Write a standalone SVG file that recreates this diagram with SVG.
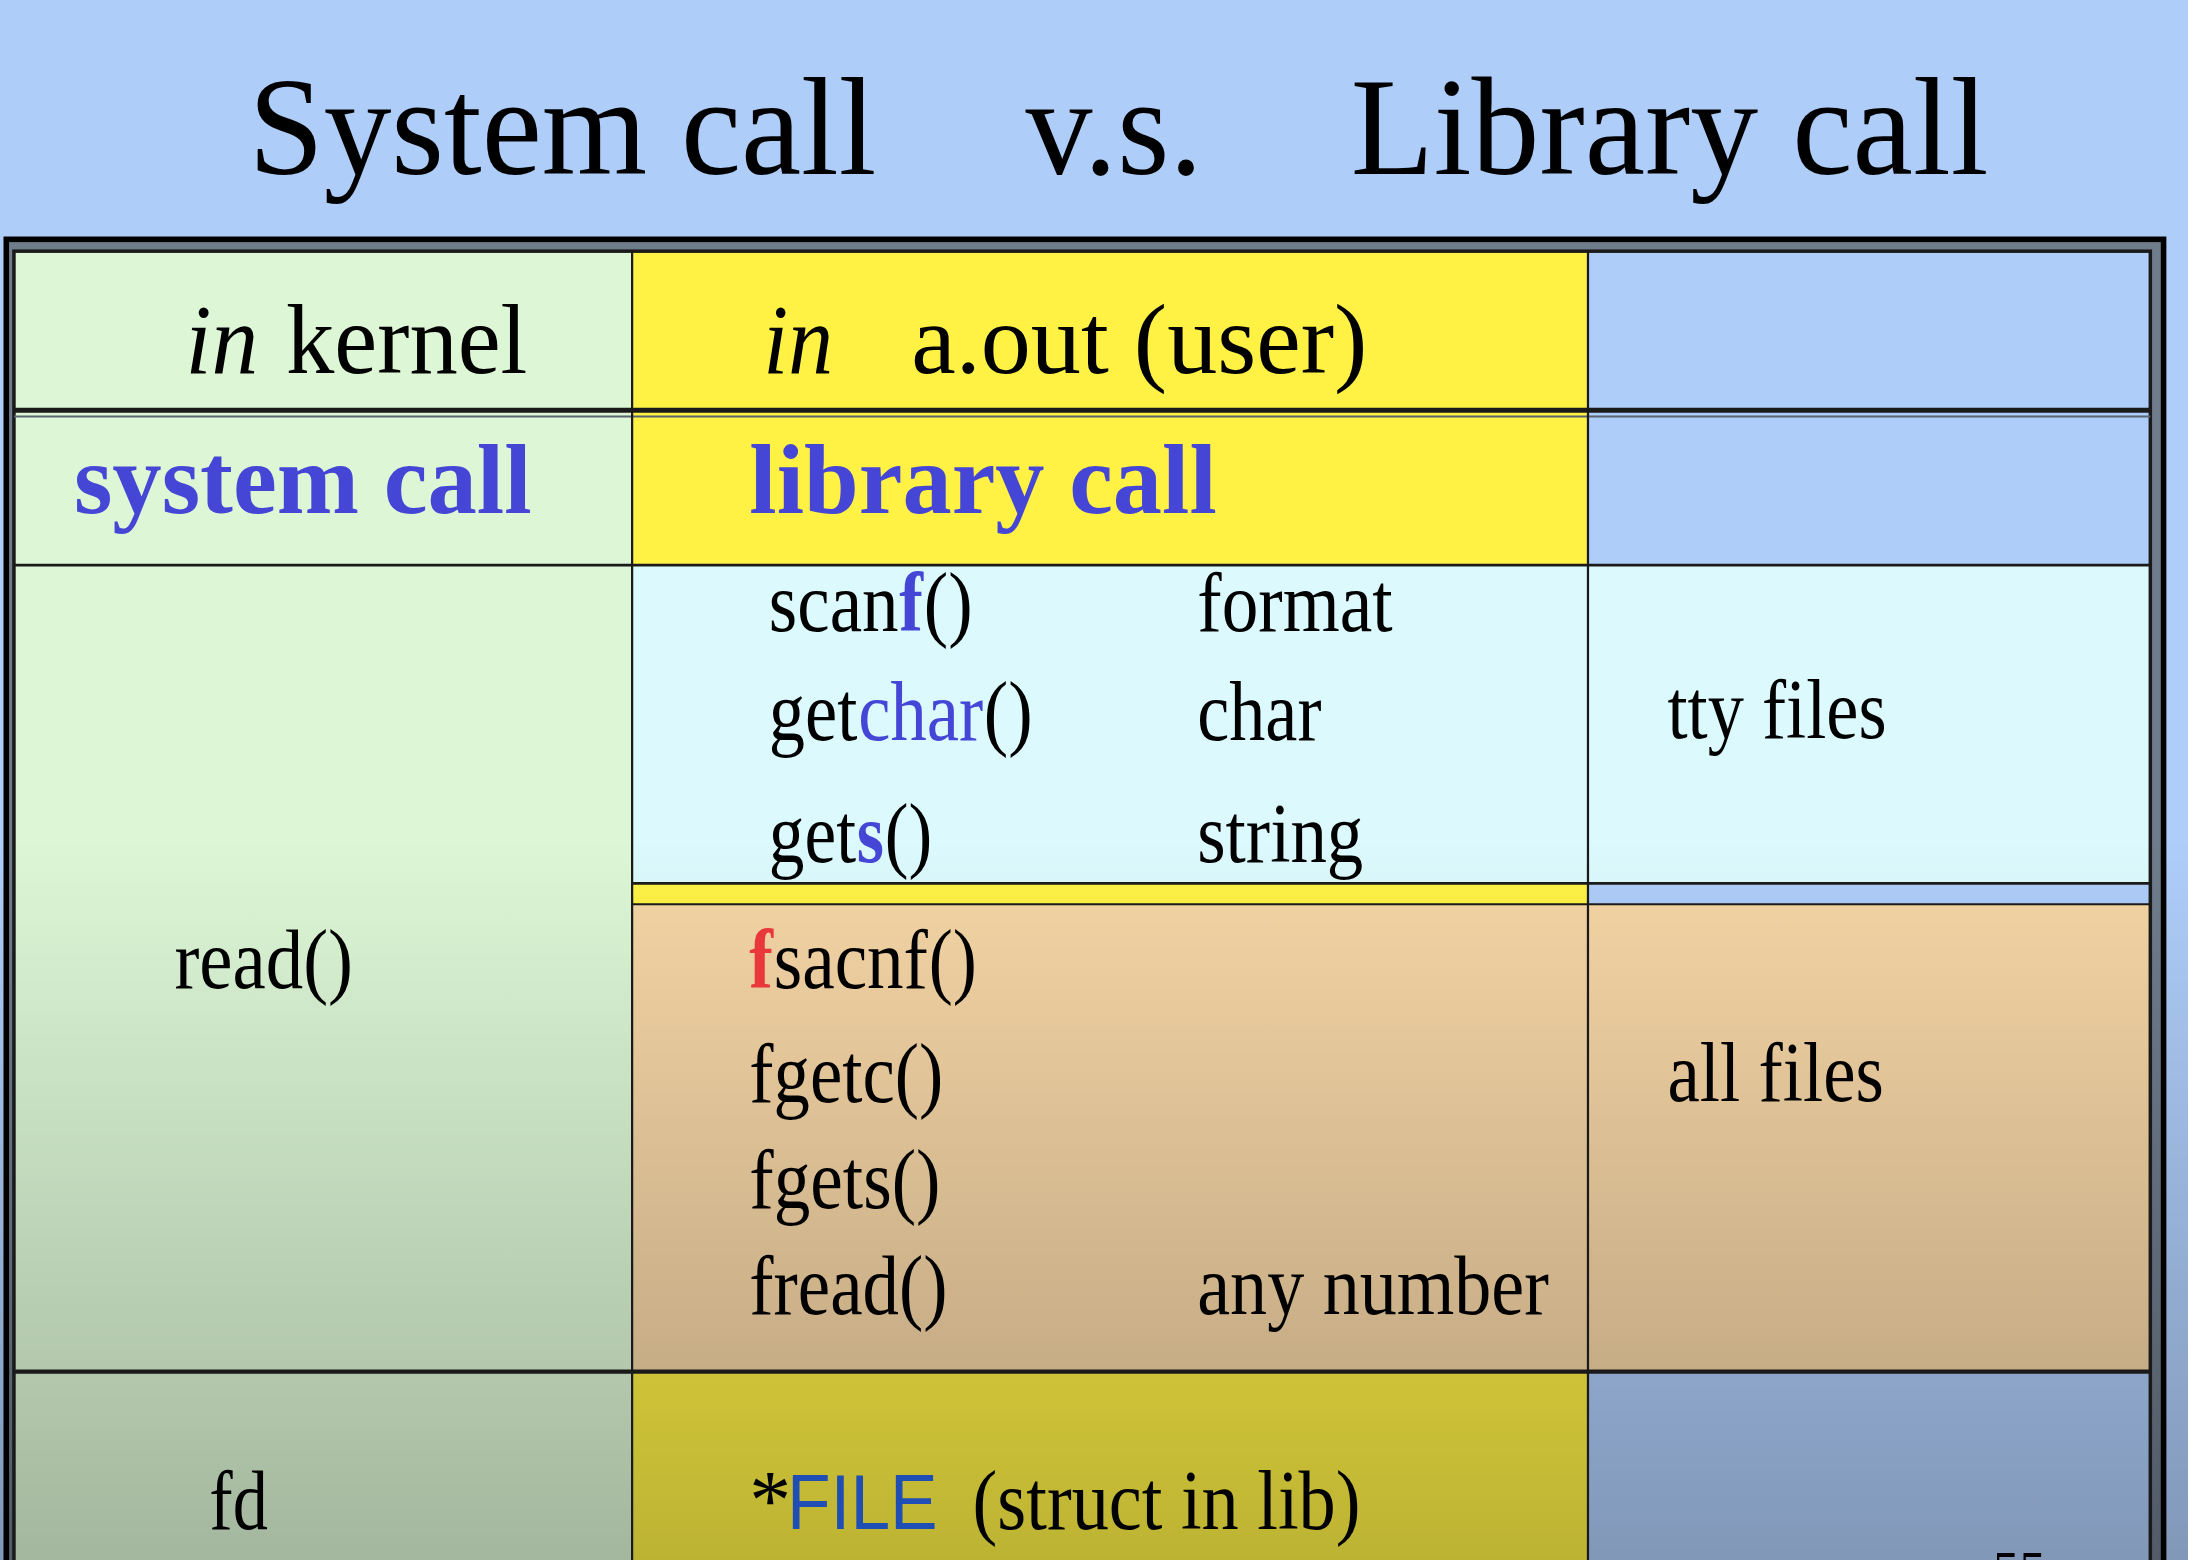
<svg xmlns="http://www.w3.org/2000/svg" width="2188" height="1560" viewBox="0 0 2188 1560">
  <defs>
    <linearGradient id="shade" x1="0" y1="0" x2="0" y2="1">
      <stop offset="0" stop-color="#000" stop-opacity="0"/>
      <stop offset="1" stop-color="#000" stop-opacity="0.26"/>
    </linearGradient>
    <style>
      text { font-family: "Liberation Serif", "Times New Roman", serif; fill: #000; }
      .title { font-size: 100px; }
      .hdr { font-size: 72px; }
      .hdrb { font-size: 72px; font-weight: bold; fill: #4646D6; }
      .body { font-size: 60px; }
      .it { font-style: italic; }
      .bl { fill: #4646D6; }
      .blb { fill: #4646D6; font-weight: bold; }
      .rdb { fill: #E8383C; font-weight: bold; }
      .sans { font-family: "Liberation Sans", Arial, sans-serif; font-size: 56px; fill: #1F4FB5; }
      .yellow { fill: #FFF245; }
      .cyan { fill: #DCFAFD; }
      .tan { fill: #F6D6A6; }
      .green { fill: #DDF7D6; }
      .blue { fill: #AECDF9; }
      .ln { stroke: #1a1a1a; fill: none; }
    </style>
  </defs>
  <g transform="scale(1.395408)">
    <rect id="background" x="0" y="0" width="1568" height="1118" fill="#AECDF9"/>

    <g id="title">
      <text class="title" x="178" y="125" textLength="450" lengthAdjust="spacingAndGlyphs">System call</text>
      <text class="title" x="735" y="125" textLength="127" lengthAdjust="spacingAndGlyphs">v.s.</text>
      <text class="title" x="968" y="125" textLength="457" lengthAdjust="spacingAndGlyphs">Library call</text>
    </g>

    <g id="frame">
      <rect x="4.5" y="171.5" width="1546" height="980" fill="#6F7C8C" stroke="#000" stroke-width="4"/>
    </g>

    <g id="cells">
      <rect id="col-kernel" class="green" x="10" y="180" width="443" height="960"/>
      <rect id="cell-user-header" class="yellow" x="453" y="180" width="685" height="225"/>
      <rect id="cell-right-header" class="blue" x="1138" y="180" width="403" height="225"/>
      <rect id="cell-tty-lib" class="cyan" x="453" y="405" width="685" height="228"/>
      <rect id="cell-tty" class="cyan" x="1138" y="405" width="403" height="228"/>
      <rect id="strip-lib" class="yellow" x="453" y="633" width="685" height="15"/>
      <rect id="strip-right" class="blue" x="1138" y="633" width="403" height="15"/>
      <rect id="cell-all-lib" class="tan" x="453" y="648" width="685" height="335"/>
      <rect id="cell-all" class="tan" x="1138" y="648" width="403" height="335"/>
      <rect id="cell-file" class="yellow" x="453" y="983" width="685" height="160"/>
      <rect id="cell-bottom-right" class="blue" x="1138" y="983" width="403" height="160"/>
    </g>

    <rect id="shading" x="0" y="600" width="1568" height="518" fill="url(#shade)"/>

    <g id="grid-lines">
      <rect class="ln" x="10" y="180" width="1531" height="960" stroke-width="2.5"/>
      <line class="ln" x1="10" y1="294" x2="1541" y2="294" stroke-width="3.5"/>
      <line x1="10" y1="298.5" x2="1541" y2="298.5" stroke="#5a6470" stroke-width="1.5"/>
      <line class="ln" x1="10" y1="405" x2="1541" y2="405" stroke-width="2" stroke="#2e3a2e"/>
      <line class="ln" x1="453" y1="633" x2="1541" y2="633" stroke-width="2" stroke="#4a5560"/>
      <line class="ln" x1="453" y1="648" x2="1541" y2="648" stroke-width="1.5" stroke="#333"/>
      <line class="ln" x1="10" y1="983" x2="1541" y2="983" stroke-width="3" stroke="#2f3a30"/>
      <line class="ln" x1="453" y1="180" x2="453" y2="1140" stroke-width="1.6"/>
      <line class="ln" x1="1138" y1="180" x2="1138" y2="1140" stroke-width="1.6"/>
    </g>

    <g id="header-kernel">
      <text class="hdr it" x="133" y="267" textLength="52" lengthAdjust="spacingAndGlyphs">in</text>
      <text class="hdr" x="205" y="267" textLength="173" lengthAdjust="spacingAndGlyphs">kernel</text>
    </g>
    <g id="header-user">
      <text class="hdr it" x="547" y="267" textLength="50" lengthAdjust="spacingAndGlyphs">in</text>
      <text class="hdr" x="653" y="267" textLength="327" lengthAdjust="spacingAndGlyphs">a.out (user)</text>
    </g>
    <g id="label-system-call">
      <text class="hdrb" x="53" y="368" textLength="328" lengthAdjust="spacingAndGlyphs">system call</text>
    </g>
    <g id="label-library-call">
      <text class="hdrb" x="537" y="368" textLength="335" lengthAdjust="spacingAndGlyphs">library call</text>
    </g>

    <g id="tty-functions">
      <text class="body" x="551" y="452" textLength="93" lengthAdjust="spacingAndGlyphs">scan</text>
      <text class="body blb" x="644.5" y="452" textLength="17" lengthAdjust="spacingAndGlyphs">f</text>
      <text class="body" x="662" y="452" textLength="35" lengthAdjust="spacingAndGlyphs">()</text>
      <text class="body" x="858" y="452" textLength="140" lengthAdjust="spacingAndGlyphs">format</text>

      <text class="body" x="551" y="530" textLength="63.5" lengthAdjust="spacingAndGlyphs">get</text>
      <text class="body bl" x="615" y="530" textLength="89.5" lengthAdjust="spacingAndGlyphs">char</text>
      <text class="body" x="705" y="530" textLength="35" lengthAdjust="spacingAndGlyphs">()</text>
      <text class="body" x="858" y="530" textLength="89" lengthAdjust="spacingAndGlyphs">char</text>

      <text class="body" x="551" y="618" textLength="62.5" lengthAdjust="spacingAndGlyphs">get</text>
      <text class="body blb" x="614" y="618" textLength="19.5" lengthAdjust="spacingAndGlyphs">s</text>
      <text class="body" x="634" y="618" textLength="34" lengthAdjust="spacingAndGlyphs">()</text>
      <text class="body" x="858" y="618" textLength="119" lengthAdjust="spacingAndGlyphs">string</text>
    </g>
    <g id="tty-files">
      <text class="body" x="1195" y="529" textLength="157" lengthAdjust="spacingAndGlyphs">tty files</text>
    </g>

    <g id="read">
      <text class="body" x="125" y="708" textLength="128" lengthAdjust="spacingAndGlyphs">read()</text>
    </g>

    <g id="file-functions">
      <text class="body rdb" x="537" y="708" textLength="17" lengthAdjust="spacingAndGlyphs">f</text>
      <text class="body" x="554.5" y="708" textLength="110.5" lengthAdjust="spacingAndGlyphs">sacnf</text>
      <text class="body" x="665.5" y="708" textLength="34.5" lengthAdjust="spacingAndGlyphs">()</text>
      <text class="body" x="537" y="790" textLength="139" lengthAdjust="spacingAndGlyphs">fgetc()</text>
      <text class="body" x="537" y="866" textLength="137" lengthAdjust="spacingAndGlyphs">fgets()</text>
      <text class="body" x="537" y="942" textLength="142" lengthAdjust="spacingAndGlyphs">fread()</text>
      <text class="body" x="858" y="942" textLength="252" lengthAdjust="spacingAndGlyphs">any number</text>
    </g>
    <g id="all-files">
      <text class="body" x="1195" y="789" textLength="155" lengthAdjust="spacingAndGlyphs">all files</text>
    </g>

    <g id="fd">
      <text class="body" x="150" y="1096" textLength="42" lengthAdjust="spacingAndGlyphs">fd</text>
    </g>
    <g id="file-struct">
      <text class="body" x="537" y="1096">*</text>
      <text class="sans" x="564" y="1096" textLength="108" lengthAdjust="spacingAndGlyphs">FILE</text>
      <text class="body" x="697" y="1096" textLength="278" lengthAdjust="spacingAndGlyphs">(struct in lib)</text>
    </g>

    <g id="page-number">
      <text x="1428" y="1138" font-size="38">55</text>
    </g>
  </g>
</svg>
